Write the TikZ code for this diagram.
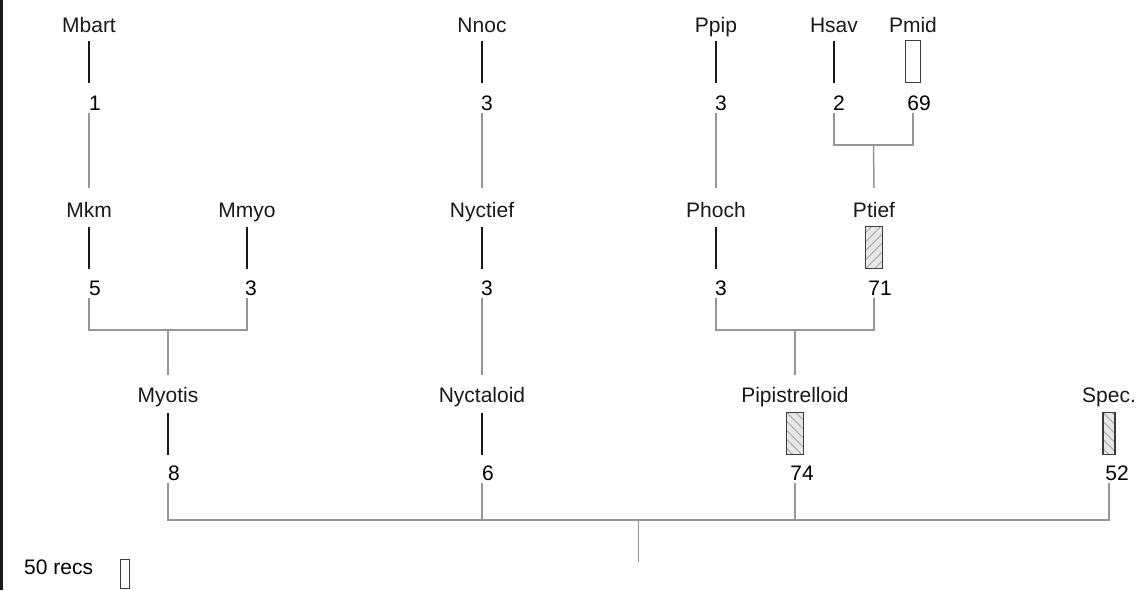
\documentclass[tikz,border=0pt]{standalone}
\usepackage{fontspec}
\setmainfont{Liberation Sans}
\definecolor{conncol}{RGB}{150,150,150}
\definecolor{barcol}{RGB}{60,60,60}
\definecolor{hatchbg}{RGB}{232,232,232}
\definecolor{hatchln}{RGB}{165,165,165}
\tikzset{
  lbl/.style={anchor=base, inner sep=0pt, text height=15pt, text depth=5pt,
    font=\fontsize{21}{25}\selectfont, text=black!90},
  cnt/.style={anchor=base, inner sep=0pt, text height=15pt, text depth=0pt,
    font=\fontsize{21}{25}\selectfont, text=black},
  linebar/.style={fill=black!90, inner sep=0pt, minimum width=2.6pt, minimum height=42pt},
  openbar/.style={draw=barcol, line width=1.3pt, fill=white, inner sep=0pt, minimum height=42pt},
  hatchne/.style={openbar, fill=hatchbg, path picture={
      \foreach \i in {-8,...,8}{
        \draw[hatchln, line width=0.8pt] ([xshift=\i*9pt]path picture bounding box.south west) -- ++(60pt,60pt);}}},
  hatchnw/.style={openbar, fill=hatchbg, path picture={
      \foreach \i in {-8,...,8}{
        \draw[hatchln, line width=0.8pt] ([xshift=\i*9pt]path picture bounding box.north west) -- ++(60pt,-60pt);}}},
  conn/.style={draw=conncol, line width=1.5pt},
}
\begin{document}
\begin{tikzpicture}[x=1pt, y=-1pt]
\useasboundingbox (0,0) rectangle (1146,590);
\draw[line width=2.6pt, black!90] (1.3,0) -- (1.3,590);

% ---- top row
\node[lbl] (mbart) at (89,32) {Mbart};
\node[linebar] (mbartb) at (89,61.5) {};
\node[cnt] (mbartn) at (95,110) {1};

\node[lbl] (nnoc) at (482,32) {Nnoc};
\node[linebar] (nnocb) at (482,61.5) {};
\node[cnt] (nnocn) at (487,110) {3};

\node[lbl] (ppip) at (716,32) {Ppip};
\node[linebar] (ppipb) at (716,61.5) {};
\node[cnt] (ppipn) at (721,110) {3};

\node[lbl] (hsav) at (834,32) {Hsav};
\node[linebar] (hsavb) at (834,61.5) {};
\node[cnt] (hsavn) at (839,110) {2};

\node[lbl] (pmid) at (913,32) {Pmid};
\node[openbar, minimum width=15.5pt] (pmidb) at (913,61.5) {};
\node[cnt] (pmidn) at (919,110) {69};

% ---- middle row
\node[lbl] (mkm) at (89,217) {Mkm};
\node[linebar] (mkmb) at (89,247.5) {};
\node[cnt] (mkmn) at (95,295) {5};

\node[lbl] (mmyo) at (247,217) {Mmyo};
\node[linebar] (mmyob) at (247,247.5) {};
\node[cnt] (mmyon) at (251,295) {3};

\node[lbl] (nyctief) at (482,217) {Nyctief};
\node[linebar] (nyctiefb) at (482,247.5) {};
\node[cnt] (nyctiefn) at (487,295) {3};

\node[lbl] (phoch) at (716,217) {Phoch};
\node[linebar] (phochb) at (716,247.5) {};
\node[cnt] (phochn) at (721,295) {3};

\node[lbl] (ptief) at (874,217) {Ptief};
\node[hatchne, minimum width=16.5pt] (ptiefb) at (874,247.5) {};
\node[cnt] (ptiefn) at (880,295) {71};

% ---- bottom row
\node[lbl] (myotis) at (168,402) {Myotis};
\node[linebar] (myotisb) at (168,433.5) {};
\node[cnt] (myotisn) at (174,480) {8};

\node[lbl] (nyctaloid) at (482,402) {Nyctaloid};
\node[linebar] (nyctaloidb) at (482,433.5) {};
\node[cnt] (nyctaloidn) at (488,480) {6};

\node[lbl] (pipis) at (795,402) {Pipistrelloid};
\node[hatchnw, minimum width=16.5pt] (pipisb) at (795,433.5) {};
\node[cnt] (pipisn) at (802,480) {74};

\node[lbl] (spec) at (1109,402) {Spec.};
\node[hatchnw, minimum width=12pt] (specb) at (1109,433.5) {};
\node[cnt] (specn) at (1117,480) {52};

% ---- legend
\node[anchor=base west, inner sep=0pt, font=\fontsize{21}{25}\selectfont] (legend) at (24,574) {50 recs};
\node[openbar, minimum width=9pt, minimum height=29pt] (legendb) at (125,574) {};

% ---- junction coordinates
\coordinate (jtop) at (873.5,145);
\coordinate (jmyo) at (168,330);
\coordinate (jpip) at (795,330);
\coordinate (jroot) at (638.5,520);
\coordinate (rootend) at (638.5,562);

% ---- connectors: single chains
\draw[conn] ([yshift=-3pt]mbartb |- mbartn.south) -- ([yshift=14pt]mkm.north);
\draw[conn] ([yshift=-3pt]nnocb |- nnocn.south) -- ([yshift=14pt]nyctief.north);
\draw[conn] ([yshift=-3pt]ppipb |- ppipn.south) -- ([yshift=14pt]phoch.north);
\draw[conn] ([yshift=-3pt]nyctiefb |- nyctiefn.south) -- ([yshift=12pt]nyctaloid.north);

% ---- connectors: brackets
\draw[conn] ([yshift=-3pt]hsavb |- hsavn.south) |- (jtop) -| ([yshift=-3pt]pmidb |- pmidn.south);
\draw[conn] (jtop) -- ([yshift=14pt]ptief.north);

\draw[conn] ([yshift=-3pt]mkmb |- mkmn.south) |- (jmyo) -| ([yshift=-3pt]mmyob |- mmyon.south);
\draw[conn] (jmyo) -- ([yshift=12pt]myotis.north);

\draw[conn] ([yshift=-3pt]phochb |- phochn.south) |- (jpip) -| ([yshift=-3pt]ptiefb |- ptiefn.south);
\draw[conn] (jpip) -- ([yshift=12pt]pipis.north);

\draw[conn] ([yshift=-3pt]myotisb |- myotisn.south) |- (jroot) -| ([yshift=-3pt]specb |- specn.south);
\draw[conn] ([yshift=-3pt]nyctaloidb |- nyctaloidn.south) -- (nyctaloidb |- jroot);
\draw[conn] ([yshift=-3pt]pipisb |- pipisn.south) -- (pipisb |- jroot);
\draw[conn] (jroot) -- (rootend);
\end{tikzpicture}
\end{document}
